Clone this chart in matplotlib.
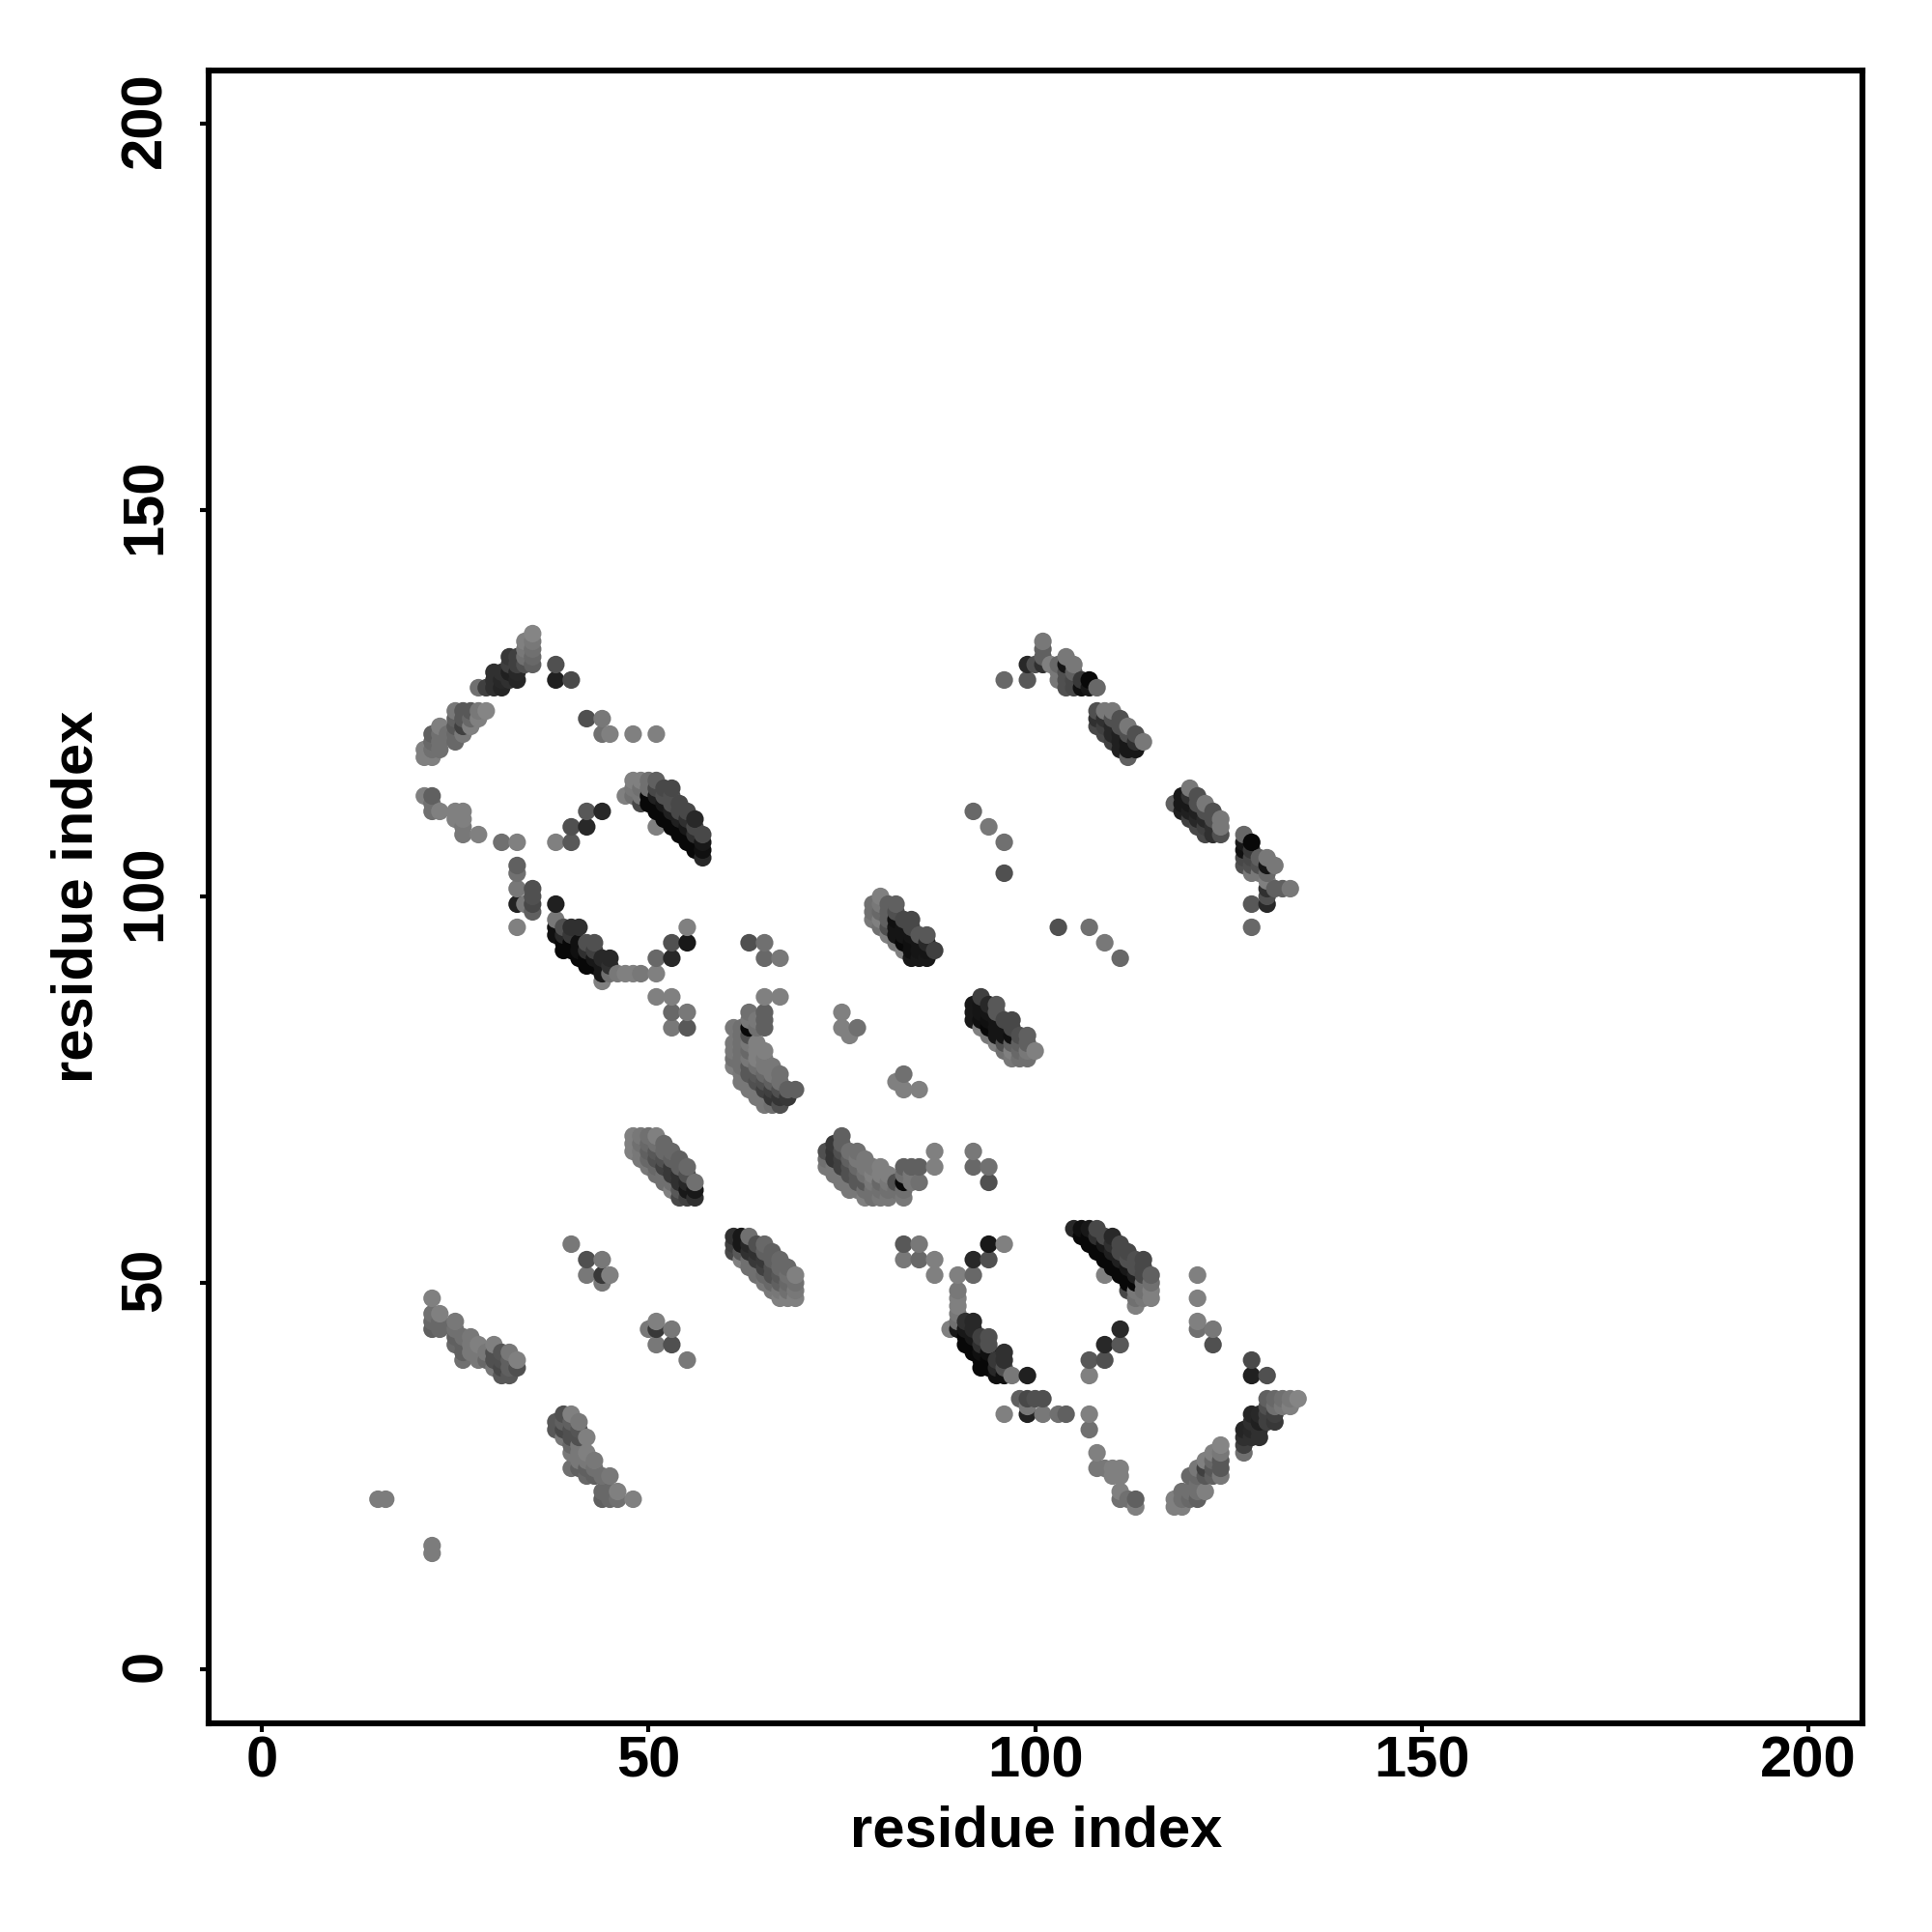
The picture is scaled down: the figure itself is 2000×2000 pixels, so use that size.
import matplotlib
matplotlib.use("Agg")
import matplotlib.pyplot as plt
from matplotlib.transforms import ScaledTranslation

# contacts as (residue_i, residue_j, grey level 0-255); the map is symmetric
short_contacts = [(15,22,0x7c),(16,22,0x7c)]
band_22_48 = [
 (22,48,0x80),(22,46,0x70),(23,46,0x80),(22,45,0x68),(22,44,0x60),(23,45,0x68),(23,44,0x68),
 (25,45,0x78),(25,44,0x70),(25,43,0x60),(25,42,0x68),(26,43,0x70),(27,43,0x78),(26,42,0x60),(26,41,0x60),
 (26,40,0x70),(27,42,0x78),(27,41,0x78),(28,42,0x80),(28,41,0x78),(28,40,0x78),(29,41,0x78),(29,40,0x68),
 (30,42,0x80),(30,41,0x50),(30,40,0x50),(31,41,0x55),(31,40,0x50),(32,41,0x78),(32,40,0x60),(32,39,0x60),
 (33,40,0x80),(33,39,0x50),(31,38,0x58),(32,38,0x58),(30,39,0x78),(31,39,0x48)]
band_21_134 = [
 (21,119,0x80),(21,118,0x80),(22,118,0x80),(22,119,0x70),(22,120,0x68),(22,121,0x60),(23,122,0x80),(23,121,0x70),
 (23,120,0x70),(23,119,0x70),(24,121,0x70),(25,124,0x78),(25,123,0x60),(25,122,0x58),(25,121,0x68),(25,120,0x68),
 (26,124,0x58),(26,123,0x58),(26,122,0x40),(26,121,0x78),(27,124,0x58),(27,123,0x68),(27,122,0x80),
 (28,124,0x78),(28,123,0x80),(29,124,0x85),
 (28,127,0x70),(29,127,0x40),(30,127,0x30),(31,127,0x25),(30,128,0x30),(31,128,0x28),(32,128,0x30),(33,128,0x25),
 (30,129,0x30),(31,129,0x30),(32,129,0x20),(33,129,0x28),(32,130,0x40),(33,130,0x40),(34,130,0x50),(35,130,0x60),
 (32,131,0x38),(33,131,0x40),(34,131,0x70),(35,131,0x68),(34,132,0x78),(35,132,0x70),(34,133,0x80),(35,133,0x78),(35,134,0x85)]
arc_21_113 = [
 (21,113,0x80),(22,113,0x60),(22,112,0x70),(22,111,0x70),(23,111,0x80),(25,111,0x80),(26,111,0x80),(25,110,0x80),
 (26,110,0x80),(26,109,0x78),(26,108,0x78),(28,108,0x80),(31,107,0x70),(33,107,0x80),(38,107,0x80),(40,107,0x58),
 (40,109,0x50),(42,109,0x28),(42,111,0x58),(44,111,0x28)]
column_33_104 = [
 (33,104,0x60),(33,103,0x70),(33,101,0x78),(33,99,0x22),(34,99,0x78),(35,101,0x50),(35,100,0x50),(35,99,0x48),
 (35,98,0x60),(33,96,0x80),(38,99,0x20)]
isolated_38_130 = [
 (38,130,0x50),(38,128,0x20),(40,128,0x4a),(42,123,0x50),(44,123,0x78),(44,121,0x70),(45,121,0x80),(48,121,0x80),(51,121,0x80)]
isolated_40_55 = [
 (40,55,0x78),(42,53,0x50),(44,53,0x78),(42,51,0x78),(44,51,0x38),(45,51,0x80),(44,50,0x78)]
band_38_98 = [
 (38,97,0x78),(38,96,0x10),(38,95,0x10),(39,96,0x50),(39,95,0x28),(39,94,0x08),(39,93,0x08),(40,96,0x30),(41,96,0x30),
 (40,95,0x38),(40,94,0x08),(40,93,0x08),(41,94,0x10),(41,93,0x10),(41,92,0x08),(42,94,0x50),(43,94,0x50),(42,93,0x30),(42,92,0x08),(42,91,0x08),
 (43,93,0x40),(43,92,0x18),(43,91,0x08),(44,92,0x28),(45,92,0x28),(44,91,0x18),(44,90,0x18),(45,91,0x30),(45,90,0x70),
 (46,90,0x78),(47,90,0x80),(48,90,0x80),(44,89,0x80)]
isolated_51_96 = [
 (51,90,0x80),(51,92,0x68),(53,92,0x28),(53,94,0x50),(55,94,0x18),(55,96,0x80),(51,87,0x80),(53,87,0x80),
 (53,85,0x68),(55,85,0x78),(53,83,0x78),(55,83,0x58)]
band_47_115 = [
 (47,113,0x80),(48,114,0x78),(48,115,0x80),(49,115,0x80),(50,115,0x70),(51,115,0x60),(48,113,0x70),(49,114,0x70),
 (49,113,0x78),(49,112,0x48),(50,114,0x70),(50,113,0x08),(50,112,0x08),(51,114,0x48),(51,113,0x20),(51,112,0x08),(51,111,0x08),
 (51,109,0x80),(52,114,0x48),(53,114,0x48),(52,113,0x50),(53,113,0x50),(52,112,0x18),(52,111,0x08),(52,110,0x08),
 (53,112,0x50),(54,112,0x48),(53,111,0x20),(53,110,0x08),(53,109,0x08),(54,111,0x48),(54,110,0x20),(54,109,0x08),(54,108,0x08),
 (55,111,0x48),(55,110,0x30),(55,109,0x18),(55,108,0x08),(55,107,0x08),(56,110,0x28),(56,109,0x48),(56,108,0x30),(56,107,0x08),(56,106,0x08),
 (57,108,0x48),(57,107,0x18),(57,106,0x10),(57,105,0x28)]
band_48_69 = [
 (48,69,0x80),(48,68,0x80),(48,67,0x80),(49,69,0x78),(49,68,0x70),(49,67,0x78),(50,69,0x70),(50,68,0x68),(50,67,0x60),(50,66,0x68),
 (51,69,0x80),(51,68,0x70),(51,67,0x58),(51,66,0x50),(51,65,0x68),(52,67,0x68),(52,66,0x50),(52,65,0x40),(52,64,0x70),
 (53,67,0x68),(53,66,0x60),(53,65,0x38),(53,64,0x38),(53,63,0x70),(54,65,0x60),(54,64,0x30),(54,63,0x30),(54,62,0x58),(54,61,0x48),
 (55,65,0x68),(55,64,0x50),(55,63,0x28),(55,62,0x18),(55,61,0x40),(56,63,0x70),(56,62,0x18),(56,61,0x30)]
cluster_61_87 = [
 (61,83,0x78),(61,81,0x78),(61,80,0x78),(61,79,0x70),(61,78,0x80),(62,83,0x70),(62,81,0x70),(62,80,0x70),(62,79,0x70),(62,78,0x70),
 (62,77,0x78),(62,76,0x78),(63,83,0x08),(63,84,0x78),(63,85,0x70),(63,81,0x78),(63,80,0x68),(63,79,0x78),(63,78,0x58),(63,77,0x58),(63,76,0x78),(63,75,0x78),
 (64,84,0x78),(64,83,0x70),(64,81,0x80),(64,80,0x80),(64,79,0x80),(64,78,0x70),(64,77,0x58),(64,76,0x50),(64,75,0x78),(64,74,0x78),
 (65,87,0x80),(65,85,0x60),(65,83,0x60),(65,84,0x60),(65,80,0x80),(65,79,0x78),(65,78,0x78),(65,77,0x68),(65,76,0x50),(65,75,0x40),(65,74,0x78),(65,73,0x78),
 (66,78,0x78),(66,77,0x78),(66,76,0x60),(66,75,0x40),(66,74,0x35),(66,73,0x70),(67,87,0x80),(67,77,0x70),(67,76,0x70),(67,75,0x50),(67,74,0x35),(67,73,0x50),
 (68,75,0x60),(68,74,0x38),(69,75,0x60)]
isolated_75_85 = [(75,85,0x80),(75,83,0x80),(76,82,0x80),(77,83,0x70),(82,76,0x80),(83,77,0x70),(83,75,0x80),(85,75,0x80)]
cluster_63_94 = [(63,94,0x60),(65,94,0x78),(65,92,0x68),(67,92,0x80)]
band_62_56 = [
 (61,55,0x48),(61,54,0x48),(62,56,0x18),(62,55,0x20),(62,54,0x50),(62,53,0x80),(63,56,0x78),(63,55,0x28),(63,54,0x28),(63,53,0x50),(63,52,0x70),
 (64,55,0x58),(64,54,0x40),(64,53,0x38),(64,52,0x48),(64,51,0x70),(65,55,0x70),(65,54,0x50),(65,53,0x38),(65,52,0x38),(65,51,0x58),(65,50,0x78),
 (66,54,0x60),(66,53,0x58),(66,52,0x38),(66,51,0x38),(66,50,0x70),(66,49,0x78),(67,53,0x70),(67,52,0x60),(67,51,0x48),(67,50,0x48),(67,49,0x70),(67,48,0x78),
 (68,52,0x68),(68,51,0x60),(68,50,0x50),(68,49,0x60),(68,48,0x78),(69,51,0x80),(69,50,0x70),(69,49,0x70),(69,48,0x70)]
cluster_73_69 = [
 (73,67,0x68),(73,66,0x68),(74,68,0x40),(74,67,0x40),(74,66,0x40),(74,65,0x60),(75,69,0x68),(75,68,0x48),(75,67,0x48),(75,66,0x50),(75,65,0x50),(75,64,0x70),
 (76,67,0x70),(76,66,0x58),(76,65,0x58),(76,64,0x50),(76,63,0x78),(77,67,0x70),(77,66,0x68),(77,65,0x58),(77,64,0x58),(77,63,0x60),(77,62,0x70),
 (78,65,0x70),(78,64,0x70),(78,63,0x70),(78,62,0x78),(79,64,0x78),(79,63,0x78),(79,62,0x78),(79,61,0x78),(80,65,0x78),(80,64,0x78),(80,63,0x68),(80,62,0x68),(80,61,0x78),
 (81,64,0x78),(81,63,0x68),(81,62,0x68),(81,61,0x78),(82,63,0x50),(82,62,0x70),(83,65,0x60),(83,63,0x08),(83,62,0x58),(83,61,0x78),(84,65,0x60),(85,65,0x60),(85,63,0x68),
 (87,67,0x78),(87,65,0x78),(92,67,0x78),(92,65,0x68),(94,65,0x70),(94,63,0x50)]
isolated_83_55 = [(85,53,0x68),(87,53,0x70),(87,51,0x70),(90,51,0x80),(92,51,0x60),(92,53,0x28),(94,53,0x50),(94,55,0x20),(96,55,0x78)]
band_79_100 = [
 (79,98,0x70),(80,100,0x80),(80,99,0x78),(80,98,0x68),(80,97,0x80),(81,99,0x60),(81,98,0x60),(81,97,0x60),(81,96,0x50),(81,95,0x80),
 (82,99,0x60),(82,98,0x50),(82,97,0x10),(82,96,0x15),(82,95,0x15),(83,97,0x48),(83,96,0x15),(83,95,0x15),(83,94,0x08),(83,93,0x80),
 (84,97,0x48),(84,96,0x48),(84,95,0x15),(84,94,0x10),(84,93,0x10),(85,95,0x58),(85,94,0x15),(85,93,0x15),(85,92,0x18),
 (86,95,0x58),(86,94,0x28),(86,93,0x15),(86,92,0x18),(87,93,0x40)]
band_92_87 = [
 (92,86,0x18),(92,85,0x18),(92,84,0x18),(93,87,0x38),(93,86,0x30),(93,85,0x10),(93,84,0x10),(93,83,0x70),(94,86,0x50),(94,85,0x40),(94,84,0x10),(94,83,0x10),(94,82,0x78),
 (95,86,0x58),(95,85,0x50),(95,84,0x30),(95,83,0x10),(95,82,0x10),(95,81,0x78),(96,84,0x78),(96,83,0x50),(96,82,0x20),(96,81,0x20),(96,80,0x70),
 (97,84,0x50),(97,83,0x50),(97,82,0x48),(97,81,0x48),(97,80,0x50),(97,79,0x78),(98,82,0x68),(98,81,0x68),(98,80,0x68),(98,79,0x78),
 (99,82,0x60),(99,81,0x70),(99,80,0x70),(99,79,0x70),(100,80,0x78)]
band_96_134 = [
 (96,128,0x68),(99,128,0x58),(99,130,0x28),(100,130,0x50),(101,130,0x30),(101,131,0x60),(101,132,0x60),(101,133,0x78),
 (102,130,0x80),(103,130,0x68),(103,129,0x78),(103,128,0x78),(104,131,0x78),(104,130,0x15),(104,129,0x50),(104,128,0x50),(104,127,0x50),
 (105,130,0x78),(105,129,0x60),(105,128,0x48),(105,127,0x48),(106,128,0x38),(106,127,0x10),(107,128,0x08),(107,127,0x18),(108,127,0x68),
 (108,124,0x50),(108,123,0x30),(108,122,0x48),(109,124,0x78),(109,123,0x30),(109,122,0x40),(110,124,0x78),(110,123,0x50),(110,122,0x28),(110,121,0x28),(110,120,0x40),
 (111,123,0x50),(111,122,0x50),(111,121,0x20),(111,120,0x20),(112,122,0x78),(112,121,0x50),(112,120,0x18),(112,119,0x18),(112,118,0x60),
 (113,121,0x50),(113,120,0x30),(113,119,0x18),(114,120,0x78)]
band_118_114 = [
 (118,112,0x70),(119,113,0x18),(119,112,0x20),(119,111,0x20),(120,114,0x78),(120,113,0x48),(120,112,0x45),(120,111,0x25),(120,110,0x25),
 (121,113,0x50),(121,112,0x45),(121,111,0x30),(121,110,0x25),(121,109,0x48),(122,112,0x78),(122,111,0x50),(122,110,0x30),(122,109,0x30),(122,108,0x60),
 (123,111,0x58),(123,110,0x40),(123,109,0x30),(123,108,0x48),(124,110,0x78),(124,109,0x50),(124,108,0x50),
 (127,108,0x68),(127,107,0x10),(127,106,0x10),(127,105,0x10),(127,104,0x70),(128,107,0x10),(128,106,0x38),(128,105,0x38),(128,104,0x40),(128,103,0x78),
 (129,105,0x48),(129,104,0x48),(130,105,0x70),(130,104,0x30),(130,103,0x60),(130,102,0x78),(130,101,0x20),(130,100,0x60),(130,99,0x20),
 (131,104,0x80),(131,101,0x68),(132,101,0x70),(133,101,0x78),(128,99,0x58),(128,96,0x68)]
isolated_92_111 = [(92,111,0x68),(94,109,0x78),(96,107,0x70),(96,103,0x50)]
band_90_44 = [
 (90,49,0x78),(90,48,0x78),(90,47,0x70),(90,46,0x70),(90,45,0x70),(89,44,0x78)]

groups = [short_contacts, band_22_48, band_21_134, arc_21_113, column_33_104, isolated_38_130,
          isolated_40_55, band_38_98, isolated_51_96, band_47_115, band_48_69, band_62_56, cluster_61_87,
          cluster_73_69, isolated_75_85, cluster_63_94, band_79_100, band_92_87, band_96_134, band_118_114,
          isolated_92_111, isolated_83_55, band_90_44]
pts = {}
for g in groups:
    for i, j, v in g:
        pts.setdefault((i, j), v)
        pts.setdefault((j, i), v)
ordered = sorted(pts.items())
xs = [k[0] for k, _ in ordered]
ys = [k[1] for k, _ in ordered]
cols = [(v/255, v/255, v/255) for _, v in ordered]

tick_values = [0, 50, 100, 150, 200]
xlabel_text = "residue index"
ylabel_text = "residue index"

plt.rcParams['font.family'] = ['Liberation Sans', 'DejaVu Sans']
fig = plt.figure(figsize=(20, 20), dpi=100)
ax = fig.add_axes([216/2000, 216/2000, (1928.4-216)/2000, (1784-72.7)/2000])
ax.scatter(xs, ys, c=cols, s=172, linewidths=0, zorder=3)
ax.set_xlim(-6.9, 207.05)
ax.set_ylim(-7, 206.9)
for s in ax.spines.values():
    s.set_linewidth(4.4)
ax.set_xticks(tick_values)
ax.set_yticks(tick_values)
ax.tick_params(length=6.3, width=3.0, labelsize=43)
ax.tick_params(axis='x', pad=2.8)
ax.tick_params(axis='y', pad=20.5)
for t in ax.get_xticklabels():
    t.set_fontweight('bold')
up = ScaledTranslation(0, 3.5/100, fig.dpi_scale_trans)
for t in ax.get_yticklabels():
    t.set_fontweight('bold')
    t.set_rotation(90)
    t.set_va('center')
    t.set_transform(t.get_transform() + up)
ax.set_xlabel(xlabel_text, fontsize=43, fontweight='bold')
ax.set_ylabel(ylabel_text, fontsize=43, fontweight='bold')
ax.xaxis.set_label_coords(0.5, -0.0495)
ax.yaxis.set_label_coords(-0.0633, 0.5)
ax.xaxis.label.set_va('top')
fig.savefig("out.png", dpi=100, facecolor='white')
